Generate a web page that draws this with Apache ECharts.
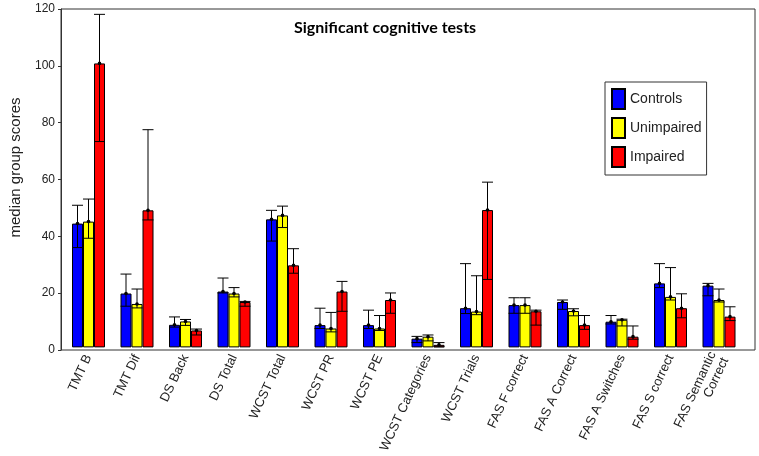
<!DOCTYPE html>
<html>
<head>
<meta charset="utf-8">
<script src="https://cdn.jsdelivr.net/npm/echarts@6/dist/echarts.min.js"></script>
<style>html,body{margin:0;padding:0;background:#fff;}#c{width:759px;height:456px;}</style>
</head>
<body>
<div id="c"></div>
<script>
const categories = ['TMT B','TMT Dif','DS Back','DS Total','WCST Total','WCST PR','WCST PE','WCST Categories','WCST Trials','FAS F correct','FAS A Correct','FAS A Switches','FAS S correct','FAS Semantic\nCorrect'];
const yTicks = [0, 20, 40, 60, 80, 100, 120];

const controls        = [43.9, 19.1, 8.0, 19.8, 45.4, 7.9, 7.9, 3.1, 13.9, 15.0, 16.1, 9.1, 22.7, 21.9];
const controlsLow     = [35.4, 14.6, 7.2, 19.3, 37.7, 6.7, 6.7, 1.7, 12.0, 12.1, 13.5, 8.3, 21.2, 18.3];
const controlsHigh    = [50.4, 26.0, 10.8, 24.6, 48.6, 13.9, 13.2, 3.9, 29.7, 17.6, 16.8, 11.3, 29.7, 22.7];

const unimpaired      = [44.6, 15.4, 9.2, 19.1, 46.8, 6.7, 6.7, 3.8, 12.7, 15.0, 12.9, 9.8, 17.9, 16.8];
const unimpairedLow   = [38.7, 14.0, 7.8, 17.9, 42.5, 5.5, 6.0, 2.3, 11.6, 12.1, 11.2, 7.6, 16.8, 16.1];
const unimpairedHigh  = [52.6, 20.7, 9.9, 21.2, 50.1, 12.4, 11.3, 4.4, 25.4, 17.6, 13.7, 10.0, 28.3, 20.7];

const impaired        = [100.7, 48.6, 6.0, 16.1, 29.1, 19.8, 16.8, 0.9, 48.7, 12.8, 7.9, 3.8, 13.9, 10.9];
const impairedLow     = [73.0, 45.2, 4.4, 14.6, 26.3, 12.8, 12.1, 0.2, 24.1, 7.9, 6.4, 2.9, 10.5, 9.5];
const impairedHigh    = [118.1, 77.2, 6.5, 16.3, 35.0, 23.4, 19.3, 1.7, 58.6, 13.2, 11.3, 7.6, 19.0, 14.4];

const groups = [
  {name: 'Controls',   color: '#0000ff', med: controls,   lo: controlsLow,   hi: controlsHigh,   off: -11},
  {name: 'Unimpaired', color: '#ffff00', med: unimpaired, lo: unimpairedLow, hi: unimpairedHigh, off: 0},
  {name: 'Impaired',   color: '#ff0000', med: impaired,   lo: impairedLow,   hi: impairedHigh,   off: 11}
];

const chart = echarts.init(document.getElementById('c'));
const series = [];
groups.forEach(g => {
  series.push({
    type: 'bar', name: g.name, xAxisIndex: 1, yAxisIndex: 1,
    data: g.med, barWidth: 11, barGap: '0%',
    itemStyle: {color: g.color, borderColor: '#000', borderWidth: 1},
    emphasis: {disabled: true}, animation: false
  });
});
groups.forEach(g => {
  series.push({
    type: 'custom', name: g.name + ' err', xAxisIndex: 1, yAxisIndex: 1,
    data: g.med.map((m, i) => [i, g.lo[i], g.hi[i], m]),
    encode: {x: 0, y: [1, 2, 3]},
    z: 10, animation: false, silent: true,
    renderItem: function (params, api) {
      const i = api.value(0);
      const pLo = api.coord([i, api.value(1)]);
      const pHi = api.coord([i, api.value(2)]);
      const pM = api.coord([i, api.value(3)]);
      const x = pLo[0] + g.off;
      const hw = 5.5;
      const st = {stroke: '#000', lineWidth: 1};
      return {
        type: 'group',
        children: [
          {type: 'line', shape: {x1: x, y1: pLo[1], x2: x, y2: pHi[1]}, style: st},
          {type: 'line', shape: {x1: x - hw, y1: pLo[1], x2: x + hw, y2: pLo[1]}, style: st},
          {type: 'line', shape: {x1: x - hw, y1: pHi[1], x2: x + hw, y2: pHi[1]}, style: st},
          {type: 'circle', shape: {cx: x, cy: pM[1], r: 1.8}, style: {fill: '#000'}}
        ]
      };
    }
  });
});

chart.setOption({
  backgroundColor: '#fff',
  animation: false,
  title: {
    text: 'Significant cognitive tests', left: 289, top: 15,
    textStyle: {fontFamily: 'Lato', fontWeight: 'bold', fontSize: 16, color: '#000'}
  },
  legend: {
    data: groups.map(g => g.name),
    orient: 'vertical', left: 605, top: 82,
    icon: 'rect',
    itemWidth: 13, itemHeight: 20, itemGap: 7,
    padding: [6, 5, 7, 6],
    borderColor: '#333', borderWidth: 1, backgroundColor: '#fff',
    textStyle: {fontFamily: 'Liberation Sans', fontSize: 14, color: '#222'},
    selectedMode: false
  },
  grid: [
    {left: 52, right: 4, top: 9, bottom: 106, show: true, borderColor: '#333', borderWidth: 1, backgroundColor: 'transparent'},
    {left: 64.25, right: 15.75, top: 9, bottom: 106}
  ],
  xAxis: [
    {gridIndex: 0, type: 'value', min: 0, max: 1, show: false},
    {gridIndex: 1, type: 'category', data: categories,
     axisLine: {show: false}, axisTick: {show: false},
     axisLabel: {rotate: 65, margin: 8, fontFamily: 'Liberation Sans', fontSize: 13, color: '#222', interval: 0, lineHeight: 14}}
  ],
  yAxis: [
    {gridIndex: 0, type: 'value', min: yTicks[0], max: yTicks[yTicks.length - 1], interval: 20,
     name: 'median group scores', nameLocation: 'middle', nameGap: 38,
     nameTextStyle: {fontFamily: 'Liberation Sans', fontSize: 15, color: '#222', padding: [0, 0, 0, 24]},
     axisLine: {show: true, lineStyle: {color: '#333'}},
     axisTick: {show: true, length: 3, inside: false, lineStyle: {color: '#333'}},
     splitLine: {show: false},
     axisLabel: {fontFamily: 'Liberation Sans', fontSize: 12, color: '#222', margin: 6}},
    {gridIndex: 1, type: 'value', min: 0, max: 120, show: false}
  ],
  series: series
});
</script>
</body>
</html>
